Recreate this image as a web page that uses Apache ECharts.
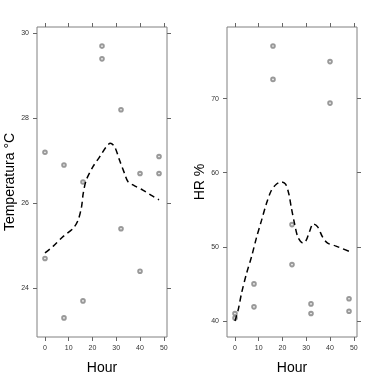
<!DOCTYPE html>
<html>
<head>
<meta charset="utf-8">
<script src="https://cdn.jsdelivr.net/npm/echarts@6/dist/echarts.min.js"></script>
<style>
html,body{margin:0;padding:0;background:#fff;}
#c{width:380px;height:379px;}
</style>
</head>
<body>
<div id="c"></div>
<script>
// ---- data ----
const hours = [0, 8, 16, 24, 32, 40, 48];
const tempA = [27.2, 26.9, 26.5, 29.7, 28.2, 26.7, 27.1];
const tempB = [24.7, 23.3, 23.7, 29.4, 25.4, 24.4, 26.7];
const hrA = [41.0, 45.0, 77.1, 53.0, 42.3, 75.0, 43.0];
const hrB = [40.4, 41.9, 72.6, 47.6, 41.0, 69.4, 41.3];

const tempSmoothHours = [0, 3.5, 7.7, 11.9, 14, 15.4, 16.1, 17.4, 20.2, 23, 25.8, 27.5, 29.3, 31.4, 33.5, 34.9, 37.7, 41.2, 44.6, 48];
const tempSmooth = [24.83, 24.99, 25.22, 25.41, 25.61, 25.92, 26.23, 26.55, 26.86, 27.09, 27.33, 27.41, 27.33, 27.01, 26.70, 26.51, 26.41, 26.31, 26.19, 26.08];
const hrSmoothHours = [0, 1.4, 2.8, 4.9, 7, 9.1, 11.2, 13.2, 15.3, 17.4, 19.5, 21.3, 22.7, 23.7, 25.1, 26.5, 28.6, 30, 31.3, 33, 34.8, 36.9, 39, 42.5, 48];
const hrSmooth = [40.0, 41.56, 43.8, 46.45, 48.7, 51.3, 53.6, 55.8, 57.6, 58.45, 58.76, 58.45, 57.1, 55.3, 53.1, 51.3, 50.5, 50.9, 52.0, 53.1, 52.7, 51.3, 50.5, 50.1, 49.4];

const xTicks = [0, 10, 20, 30, 40, 50];
const tempTicks = [24, 26, 28, 30];
const hrTicks = [40, 50, 60, 70];
const xLabel = 'Hour';
const tempLabel = 'Temperatura °C';
const hrLabel = 'HR %';

// ---- chart ----
const FONT = 'Liberation Sans, Arial, sans-serif';
const xMin = -3.36, xMax = 51.36;
const tempMin = 22.85, tempMax = 30.15;
const hrMin = 37.83, hrMax = 79.67;

function pairs(xs, ys) { return xs.map((x, i) => [x, ys[i]]); }
function scatterData(a, b) { return pairs(hours, a).concat(pairs(hours, b)); }

function xAx(grid, pos, showLabel, name) {
  return {
    type: 'value', gridIndex: grid, position: pos, min: xMin, max: xMax,
    splitLine: {show: false},
    axisLine: {show: false, onZero: false},
    axisTick: {show: true, inside: false, length: 4, customValues: xTicks, lineStyle: {color: '#666'}},
    axisLabel: {show: showLabel, customValues: xTicks, fontSize: 7, color: '#333', margin: 8, fontFamily: FONT},
    name: name || '', nameLocation: 'middle', nameGap: 24,
    nameTextStyle: {fontSize: 14, color: '#000', fontFamily: FONT}
  };
}
function yAx(grid, pos, showLabel, mn, mx, ticks, name) {
  return {
    type: 'value', gridIndex: grid, position: pos, min: mn, max: mx,
    splitLine: {show: false},
    axisLine: {show: false, onZero: false},
    axisTick: {show: true, inside: false, length: 4, customValues: ticks, lineStyle: {color: '#666'}},
    axisLabel: {show: showLabel, customValues: ticks, fontSize: 7, color: '#333', margin: 8, fontFamily: FONT},
    name: name || '', nameLocation: 'middle', nameGap: 19, nameRotate: 90,
    nameTextStyle: {fontSize: 14, color: '#000', fontFamily: FONT}
  };
}

const scatterStyle = {
  type: 'scatter', symbol: 'emptyCircle', symbolSize: 3.6,
  itemStyle: {color: '#808080', borderWidth: 0.6}
};
const lineStyleBase = {
  type: 'line', symbol: 'none', smooth: 0.3,
  lineStyle: {color: '#000', width: 1.5, type: [6, 4]}
};

const gridBase = {top: 27, width: 130, height: 310, show: true, borderColor: '#808080', borderWidth: 1,
  backgroundColor: 'transparent', containLabel: false, outerBoundsMode: 'none'};

const chart = echarts.init(document.getElementById('c'), null, {renderer: 'canvas'});
chart.setOption({
  animation: false,
  backgroundColor: '#fff',
  grid: [
    Object.assign({left: 37}, gridBase),
    Object.assign({left: 227}, gridBase)
  ],
  xAxis: [
    xAx(0, 'bottom', true, xLabel),
    xAx(0, 'top', false),
    xAx(1, 'bottom', true, xLabel),
    xAx(1, 'top', false)
  ],
  yAxis: [
    yAx(0, 'left', true, tempMin, tempMax, tempTicks, tempLabel),
    yAx(0, 'right', false, tempMin, tempMax, tempTicks),
    yAx(1, 'left', true, hrMin, hrMax, hrTicks, hrLabel),
    yAx(1, 'right', false, hrMin, hrMax, hrTicks)
  ],
  series: [
    Object.assign({}, scatterStyle, {xAxisIndex: 0, yAxisIndex: 0, data: scatterData(tempA, tempB)}),
    Object.assign({}, lineStyleBase, {xAxisIndex: 0, yAxisIndex: 0, data: pairs(tempSmoothHours, tempSmooth)}),
    Object.assign({}, scatterStyle, {xAxisIndex: 2, yAxisIndex: 2, data: scatterData(hrA, hrB)}),
    Object.assign({}, lineStyleBase, {xAxisIndex: 2, yAxisIndex: 2, data: pairs(hrSmoothHours, hrSmooth)})
  ]
});
</script>
</body>
</html>
